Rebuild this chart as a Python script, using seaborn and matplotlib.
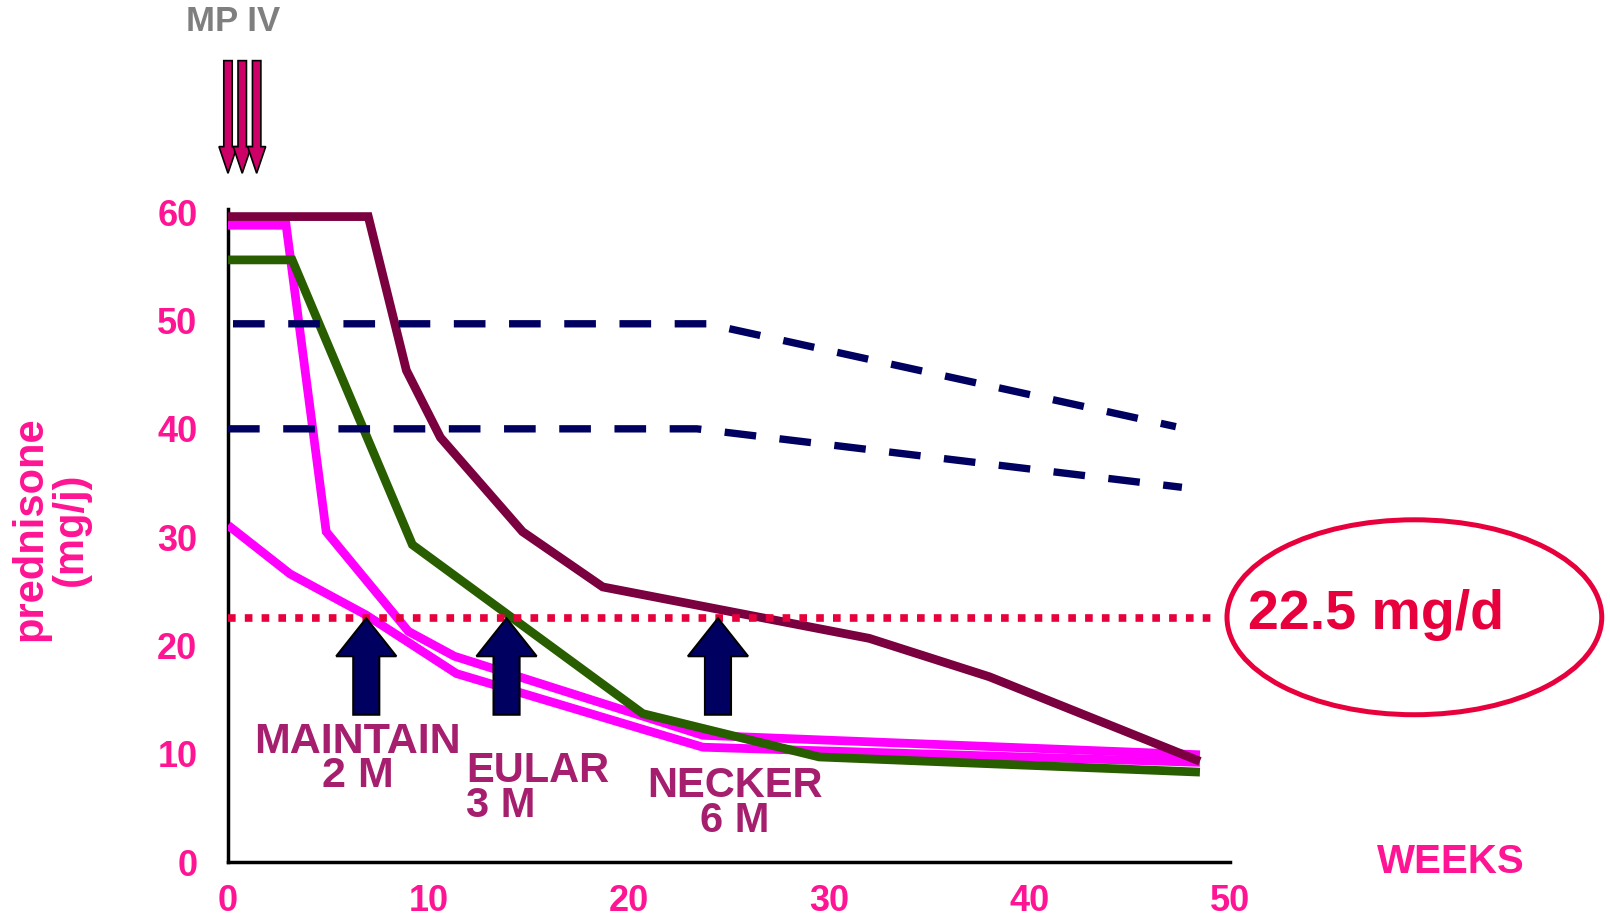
import numpy as np
import pandas as pd
import matplotlib
matplotlib.use('Agg')
import matplotlib.pyplot as plt
from matplotlib.patches import Ellipse
import seaborn as sns

sns.set_style('white')
plt.rcParams['font.family'] = ['Liberation Sans', 'DejaVu Sans']
plt.rcParams['font.weight'] = 'bold'

# ===== data (prednisone dose in mg/j vs weeks) =====
maroon_weeks = [0, 7, 8.9, 10.6, 14.7, 18.7, 32.0, 38.0, 48.5]
maroon_dose = [59.6, 59.6, 45.4, 39.2, 30.5, 25.4, 20.65, 17.1, 9.3]

pink_hi_weeks = [0, 2.9, 4.9, 9.0, 11.3, 23.7, 48.5]
pink_hi_dose = [58.8, 58.8, 30.5, 21.3, 19.0, 11.7, 9.9]

pink_lo_weeks = [0, 3.1, 6.9, 11.4, 23.7, 48.5]
pink_lo_dose = [31.1, 26.6, 22.8, 17.4, 10.6, 9.2]

green_weeks = [0, 3.2, 9.2, 20.7, 29.5, 48.5]
green_dose = [55.6, 55.6, 29.3, 13.7, 9.7, 8.3]

dash_hi_weeks = [0.25, 23.9, 47.3]
dash_hi_dose = [49.7, 49.7, 40.2]

dash_lo_weeks = [0, 23.4, 47.6]
dash_lo_dose = [40.0, 40.0, 34.6]

threshold = 22.5
threshold_weeks = [0, 49.3]

arrow_weeks = [6.9, 13.9, 24.45]
arrow_labels = ['MAINTAIN\n2 M', 'EULAR\n3 M', 'NECKER\n6 M']
mp_weeks = [0.0, 0.71, 1.43]

x_ticks = [0, 10, 20, 30, 40, 50]
y_ticks = [0, 10, 20, 30, 40, 50, 60]

pink_txt = '#FF1493'
purple_txt = '#A61E6E'
red = '#E8003D'
navy = '#000060'

fig = plt.figure(figsize=(16.1, 9.17), dpi=100)
ax = fig.add_axes([228 / 1610, 55 / 917, 1002 / 1610, 653 / 917])

line_kw = dict(estimator=None, sort=False, solid_capstyle='butt', solid_joinstyle='miter')

sns.lineplot(x=pink_lo_weeks, y=pink_lo_dose, ax=ax, color='#FF00FF', lw=6.3, zorder=3, **line_kw)
sns.lineplot(x=pink_hi_weeks, y=pink_hi_dose, ax=ax, color='#FF00FF', lw=6.3, zorder=3, **line_kw)
sns.lineplot(x=green_weeks, y=green_dose, ax=ax, color='#295E00', lw=6.3, zorder=4, **line_kw)
sns.lineplot(x=maroon_weeks, y=maroon_dose, ax=ax, color='#7B0040', lw=6.3, zorder=4, **line_kw)

dash_kw = dict(estimator=None, sort=False, color=navy, lw=5.3, linestyle=(0, (4.3, 3.2)),
               dash_capstyle='butt', zorder=5)
sns.lineplot(x=dash_hi_weeks, y=dash_hi_dose, ax=ax, **dash_kw)
sns.lineplot(x=dash_lo_weeks, y=dash_lo_dose, ax=ax, **dash_kw)

sns.lineplot(x=threshold_weeks, y=[threshold, threshold], ax=ax, estimator=None, color=red,
             lw=5.5, linestyle=(0, (1, 1.2)), dash_capstyle='butt', zorder=6)

# up arrows at the 22.5 mg/d crossings
for xw in arrow_weeks:
    ax.arrow(xw, 13.6, 0, threshold - 13.6, width=1.3, head_width=3.0, head_length=3.5,
             length_includes_head=True, fc=navy, ec='black', lw=1.5, zorder=7)

ax.text(6.46, 9.5, arrow_labels[0], ha='center', va='center', fontsize=31,
        color=purple_txt, linespacing=0.82)
ax.text(11.9, 6.8, arrow_labels[1], ha='left', va='center', fontsize=30,
        color=purple_txt, linespacing=0.82, multialignment='left')
ax.text(25.3, 5.4, arrow_labels[2], ha='center', va='center', fontsize=30,
        color=purple_txt, linespacing=0.82)

# MP IV pulses
for xw in mp_weeks:
    ax.arrow(xw, 74.0, 0, -10.4, width=0.42, head_width=0.9, head_length=2.46,
             length_includes_head=True, fc='#CC0066', ec='black', lw=1.2, clip_on=False, zorder=7)
ax.text(0.25, 77.6, 'MP IV', ha='center', va='center', fontsize=25, color='#7F7F7F')

# 22.5 mg/d callout
ell = Ellipse((59.2, 22.6), 18.7, 18.0, fill=False, ec=red, lw=3.6, clip_on=False)
ax.add_patch(ell)
ax.text(57.3, 22.8, '22.5 mg/d', ha='center', va='center', fontsize=40, color=red)

ax.text(61.0, 0.0, 'WEEKS', ha='center', va='center', fontsize=29, color=pink_txt)
ax.text(-0.177, 0.51, 'prednisone\n(mg/j)', transform=ax.transAxes, rotation=90,
        ha='center', va='center', fontsize=30, color=pink_txt, linespacing=1.0)

ax.set_xlim(0, 50)
ax.set_ylim(0, 60.3)
ax.set_xticks(x_ticks)
ax.set_yticks(y_ticks)
ax.tick_params(axis='both', length=0, labelsize=26, labelcolor=pink_txt)
ax.tick_params(axis='y', pad=22)
ax.tick_params(axis='x', pad=16)
ax.set_xlabel('')
ax.set_ylabel('')
sns.despine(ax=ax)
for s in ['left', 'bottom']:
    ax.spines[s].set_color('black')
    ax.spines[s].set_linewidth(2.5)
ax.grid(False)

fig.savefig('out.png', dpi=100)
